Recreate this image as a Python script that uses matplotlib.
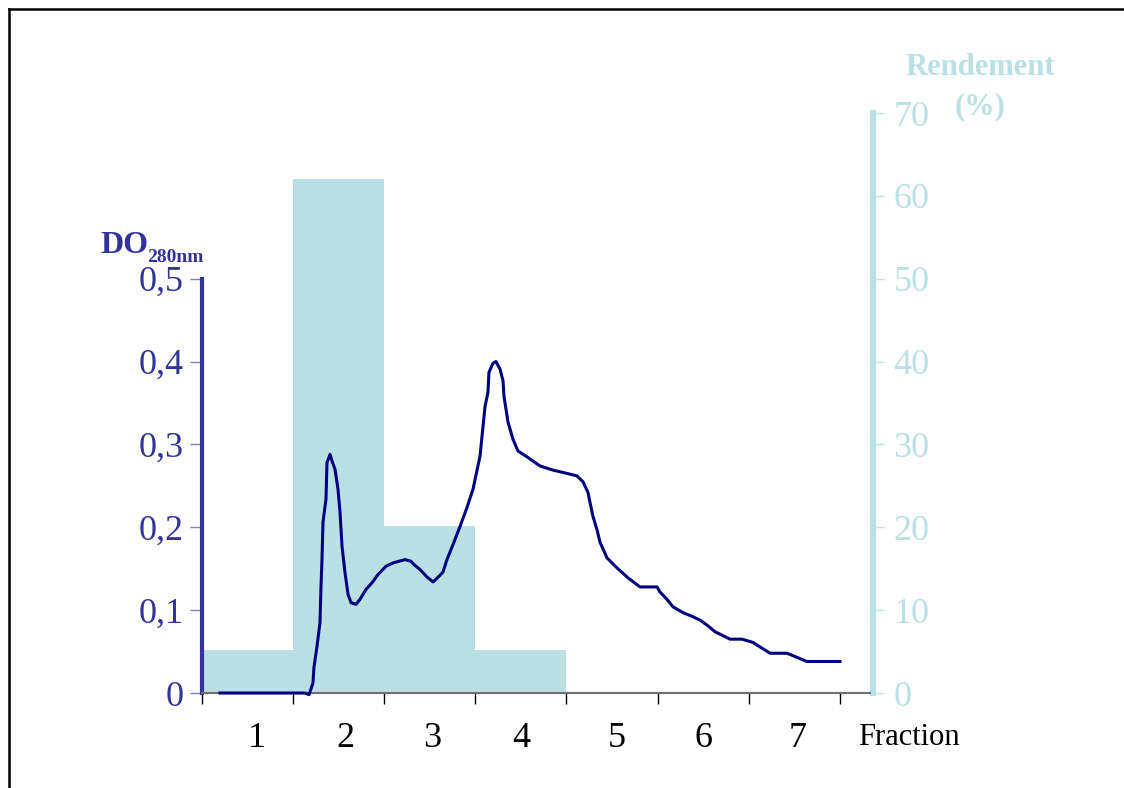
#!/usr/bin/env python3
"""
Elution profile (DO 280 nm) with yield per fraction as bars.
"""

import matplotlib
matplotlib.use("Agg")
import matplotlib.pyplot as plt
from matplotlib.lines import Line2D

plt.rcParams["font.family"] = ["Liberation Serif", "DejaVu Serif"]

# fractions and yield (%) per fraction
fractions = ["1", "2", "3", "4", "5", "6", "7"]
bar_pos = [0.5, 1.5, 2.5, 3.5]
rendement = [5.2, 62.0, 20.2, 5.2]

# absorbance trace, x in fraction units
trace_x = [0.198, 1.131, 1.175, 1.218, 1.229, 1.262, 1.295, 1.306, 1.317, 1.328,
           1.361, 1.372, 1.405, 1.427, 1.460, 1.493, 1.515, 1.537, 1.570, 1.603,
           1.636, 1.690, 1.734, 1.800, 1.866, 1.932, 2.020, 2.097, 2.228, 2.294,
           2.327, 2.393, 2.470, 2.536, 2.612, 2.645, 2.689, 2.755, 2.832, 2.909,
           2.975, 3.052, 3.074, 3.107, 3.139, 3.150, 3.194, 3.227, 3.271, 3.304,
           3.315, 3.359, 3.414, 3.469, 3.568, 3.710, 3.853, 4.007, 4.116, 4.182,
           4.237, 4.259, 4.292, 4.336, 4.369, 4.446, 4.555, 4.676, 4.808, 4.995,
           5.027, 5.104, 5.170, 5.280, 5.390, 5.466, 5.543, 5.631, 5.796, 5.928,
           6.048, 6.235, 6.422, 6.641, 7.003]
trace_do = [0.000, 0.000, -0.002, 0.012, 0.031, 0.056, 0.085, 0.128, 0.161, 0.206,
            0.234, 0.278, 0.288, 0.280, 0.270, 0.246, 0.218, 0.177, 0.145, 0.119,
            0.109, 0.107, 0.113, 0.125, 0.133, 0.143, 0.153, 0.157, 0.161, 0.159,
            0.155, 0.149, 0.140, 0.134, 0.142, 0.146, 0.161, 0.179, 0.201, 0.224,
            0.246, 0.286, 0.310, 0.346, 0.363, 0.387, 0.398, 0.400, 0.391, 0.377,
            0.358, 0.327, 0.306, 0.292, 0.285, 0.274, 0.269, 0.265, 0.262, 0.255,
            0.242, 0.230, 0.213, 0.197, 0.182, 0.163, 0.151, 0.139, 0.128, 0.128,
            0.122, 0.113, 0.104, 0.097, 0.092, 0.088, 0.082, 0.074, 0.065, 0.065,
            0.061, 0.048, 0.048, 0.038, 0.038]

do_ticks = [0, 0.1, 0.2, 0.3, 0.4, 0.5]
do_labels = ["0", "0,1", "0,2", "0,3", "0,4", "0,5"]
rd_ticks = [0, 10, 20, 30, 40, 50, 60, 70]

# where the fraction numbers sit (slightly uneven in the original)
label_pos = [0.60, 1.57, 2.53, 3.51, 4.55, 5.50, 6.54]

BLUE = "#333399"
NAVY = "#000080"
TEAL = "#BBE0E3"

W, H = 1124, 788
fig = plt.figure(figsize=(W / 100, H / 100), dpi=100)
ax1 = fig.add_axes([202 / W, 1 - 693 / H, 668 / W, 580 / H])
ax2 = ax1.twinx()

# bars on the right axis
ax2.bar(bar_pos, rendement, width=1.0, color=TEAL, linewidth=0)
ax2.set_ylim(0, 70)
ax2.set_yticks(rd_ticks)
ax2.set_yticklabels([str(t) for t in rd_ticks])
ax2.tick_params(axis="y", colors=TEAL, labelcolor=TEAL, labelsize=26,
                length=8, width=1, pad=7)
for s in ["left", "top", "bottom"]:
  ax2.spines[s].set_visible(False)
ax2.spines["right"].set_color(TEAL)
ax2.spines["right"].set_linewidth(4.5)
ax2.spines["right"].set_position(("outward", 2))

# curve on the left axis, above the bars
ax1.set_zorder(ax2.get_zorder() + 1)
ax1.patch.set_visible(False)
ax1.plot(trace_x, trace_do, color=NAVY, linewidth=2.2, zorder=3, clip_on=False)
ax1.set_xlim(0, 668 / 91.1)
ax1.set_ylim(0, 0.7)
ax1.set_yticks(do_ticks)
ax1.set_yticklabels(do_labels)
ax1.tick_params(axis="y", colors="#8080C0", labelcolor=BLUE, labelsize=26,
                length=9, width=1, pad=4)
for s in ["right", "top"]:
  ax1.spines[s].set_visible(False)
ax1.spines["left"].set_color(BLUE)
ax1.spines["left"].set_linewidth(3)
ax1.spines["left"].set_bounds(0, 0.5)
ax1.spines["bottom"].set_color("#707070")
ax1.spines["bottom"].set_linewidth(1.5)

ax1.set_xticks(range(len(fractions) + 1))
ax1.set_xticklabels([])
ax1.set_xticks(label_pos, minor=True)
ax1.set_xticklabels(fractions, minor=True)
ax1.tick_params(axis="x", which="major", length=8, width=1, color="black")
ax1.tick_params(axis="x", which="minor", length=0, pad=21, labelsize=26,
                labelcolor="black")

# axis titles
fig.text(100 / W, 1 - 253 / H, "DO", color=BLUE, fontsize=23,
         fontweight="bold", va="baseline")
fig.text(147 / W, 1 - 262 / H, "280nm", color=BLUE, fontsize=14,
         fontweight="bold", va="baseline")
fig.text(980 / W, 1 - 75 / H, "Rendement", color=TEAL, fontsize=22,
         fontweight="bold", ha="center", va="baseline")
fig.text(980 / W, 1 - 114 / H, "(%)", color=TEAL, fontsize=22,
         fontweight="bold", ha="center", va="baseline")
fig.text(858 / W, 1 - 745 / H, "Fraction", color="black", fontsize=22,
         va="baseline")

# frame around the picture
fig.add_artist(Line2D([8.5 / W, 8.5 / W], [0, 1 - 9 / H], color="black",
                      linewidth=1.8, transform=fig.transFigure))
fig.add_artist(Line2D([8.5 / W, 1], [1 - 9 / H, 1 - 9 / H], color="black",
                      linewidth=1.8, transform=fig.transFigure))

plt.savefig("out.png", dpi=100)
